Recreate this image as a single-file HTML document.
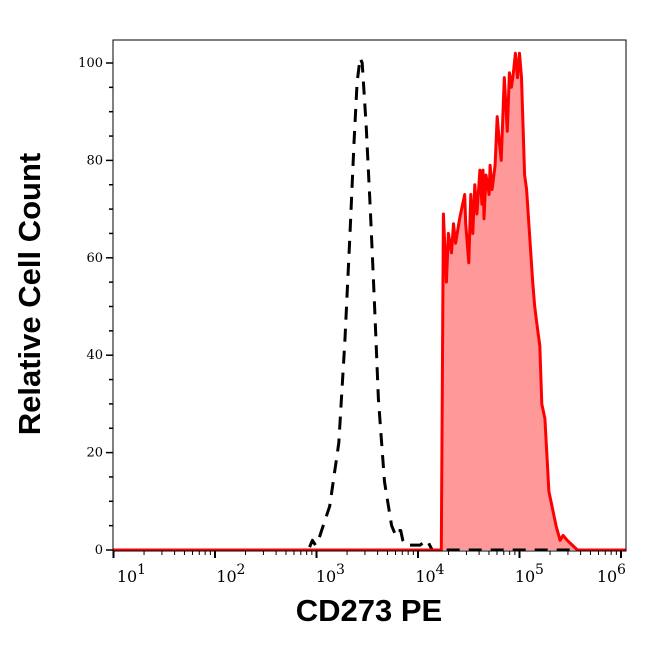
<!DOCTYPE html>
<html><head><meta charset="utf-8"><style>
body{margin:0;background:#fff;}
svg text{font-family:"DejaVu Serif","Liberation Serif",serif;}
</style></head><body>
<svg id="chart" width="646" height="641" viewBox="0 0 646 641" xmlns="http://www.w3.org/2000/svg">
<g id="marks"></g>
<g id="axes"></g>
<text x="369" y="621" text-anchor="middle" style="font-family:'Liberation Sans',sans-serif;font-weight:bold;font-size:31px">CD273 PE</text>
<text transform="translate(40,294) rotate(-90)" text-anchor="middle" style="font-family:'Liberation Sans',sans-serif;font-weight:bold;font-size:31px">Relative Cell Count</text>
</svg>
<script>
const blackLog=[1.0,2.92,2.96,2.99,3.02,3.05,3.13,3.22,3.28,3.33,3.37,3.40,3.43,3.45,3.49,3.53,3.57,3.61,3.67,3.74,3.78,3.80,3.83,3.85,3.88,4.02,4.09,4.14,6.05];
const blackVal=[0,0,2,1,2,4,9,22,43,65,84,96,101,100,87,70,51,31,14,5,3,4,4,2,1,1,2,0,0];
const redLog=[1.0,4.23,4.25,4.28,4.30,4.33,4.35,4.37,4.41,4.43,4.46,4.47,4.50,4.52,4.54,4.56,4.58,4.61,4.63,4.64,4.65,4.67,4.70,4.71,4.73,4.76,4.78,4.80,4.82,4.85,4.88,4.90,4.92,4.94,4.96,4.98,5.00,5.02,5.05,5.07,5.13,5.15,5.18,5.20,5.22,5.25,5.29,5.33,5.36,5.40,5.43,5.47,5.52,5.57,6.05];
const redVal=[0,0,69,55,65,61,67,63,68,70,73,67,59,73,65,75,69,78,71,78,68,77,73,79,74,79,89,84,80,97,86,98,95,98,102,97,102,97,77,74,55,50,45,42,30,27,12,8,5,2,3,2,1,0,0];
const yTicks=[0,20,40,60,80,100];
const xDecades=[1,2,3,4,5,6];

const L=113,R=626,T=40,B=551;
function xs(l){return 215+(l-2)*101.5;}
function ys(v){return 550-v*4.87;}
function labelX(d){return d<6?127+(d-1)*99.5:607;}
const NS="http://www.w3.org/2000/svg";
function mk(tag,attrs,parent){const e=document.createElementNS(NS,tag);for(const k in attrs)e.setAttribute(k,attrs[k]);parent.appendChild(e);return e;}
const marks=document.getElementById('marks'),axes=document.getElementById('axes');

let rp=redLog.map((l,i)=>xs(l).toFixed(1)+','+ys(redVal[i]).toFixed(1));
const fill=mk('polygon',{points:rp.join(' ')+' '+xs(6.05)+','+ys(0)+' '+xs(1)+','+ys(0),fill:'#ff9999',stroke:'none'},marks);


const bl=mk('polyline',{points:blackLog.map((l,i)=>xs(l).toFixed(1)+','+ys(blackVal[i]).toFixed(1)).join(' '),fill:'none',stroke:'#000','stroke-width':3,'stroke-dasharray':'13,9','stroke-linejoin':'round'},marks);


const rl=mk('polyline',{points:rp.join(' '),fill:'none',stroke:'#ff0000','stroke-width':3,'stroke-linejoin':'round'},marks);



const frame=mk('rect',{x:L,y:T,width:R-L,height:B-T,fill:'none',stroke:'#000','stroke-width':1},axes);


for(let v=0;v<=100;v+=5){
  const major=v%20===0;
  mk('line',{x1:L-(major?7:4),x2:L,y1:ys(v),y2:ys(v),stroke:'#000','stroke-width':1.5},axes);
}
yTicks.forEach(v=>{
  const t=mk('text',{x:L-10,y:ys(v)+4,'text-anchor':'end','font-size':13},axes);
  t.textContent=v;
  
  
});
xDecades.forEach(d=>{
  mk('line',{x1:xs(d),x2:xs(d),y1:B,y2:B+7,stroke:'#000','stroke-width':2},axes);
  if(d<6){for(let k=2;k<10;k++){const x=xs(d+Math.log10(k));mk('line',{x1:x,x2:x,y1:B,y2:B+4,stroke:'#000','stroke-width':1},axes);}}
  const t=mk('text',{x:labelX(d),y:B+31,'text-anchor':'middle','font-size':16},axes);
  t.textContent='10';
  
  
  const s=mk('text',{x:labelX(d)+10,y:B+23,'text-anchor':'start','font-size':14},axes);
  s.textContent=d;
  
  
});
</script>
</body></html>
